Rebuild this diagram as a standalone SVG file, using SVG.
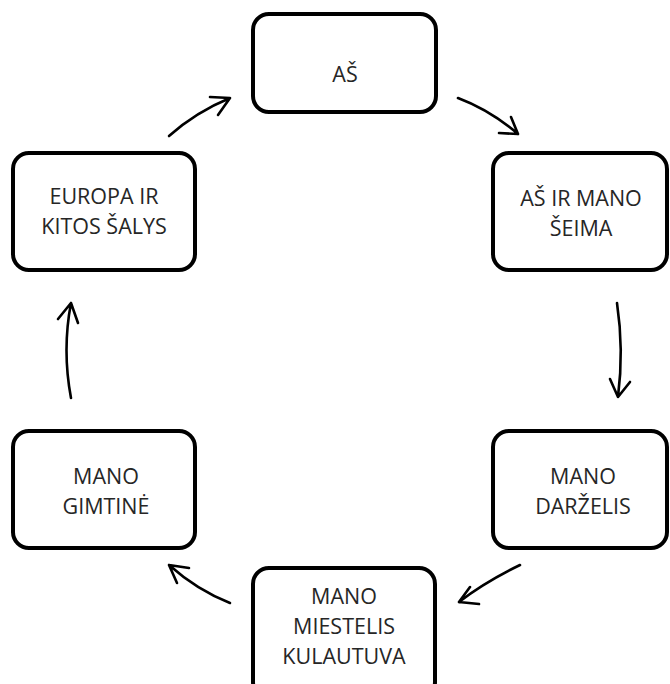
<svg xmlns="http://www.w3.org/2000/svg" width="670" height="684" viewBox="0 0 670 684">
<style>
.box{fill:#fff;stroke:#000;stroke-width:4}
.t{font-family:"Open Sans","Liberation Sans",sans-serif;font-size:21.5px;fill:#262626;text-anchor:middle}
.c{fill:none;stroke:#000;stroke-width:2.6;stroke-linecap:round;stroke-linejoin:round}
</style>
<rect width="670" height="684" fill="#fff"/>
<g id="n1"><rect class="box" x="253" y="14" width="183" height="98" rx="16"/><text class="t" x="345" y="82">AŠ</text></g>
<g id="n2"><rect class="box" x="493" y="153" width="174" height="117" rx="16"/><text class="t" x="581" y="206">AŠ IR MANO</text><text class="t" x="581" y="236">ŠEIMA</text></g>
<g id="n3"><rect class="box" x="493" y="431" width="174" height="117" rx="16"/><text class="t" x="583" y="484">MANO</text><text class="t" x="583" y="514">DARŽELIS</text></g>
<g id="n4"><rect class="box" x="253" y="568" width="182" height="130" rx="16"/><text class="t" x="344" y="604">MANO</text><text class="t" x="344" y="634">MIESTELIS</text><text class="t" x="344" y="664">KULAUTUVA</text></g>
<g id="n5"><rect class="box" x="13" y="431" width="182" height="117" rx="16"/><text class="t" x="106" y="484">MANO</text><text class="t" x="106" y="514">GIMTINĖ</text></g>
<g id="n6"><rect class="box" x="13" y="153" width="182" height="117" rx="16"/><text class="t" x="104" y="204">EUROPA IR</text><text class="t" x="104" y="234">KITOS ŠALYS</text></g>
<g id="connectors">
<path class="c" d="M458 98 Q490 110 518 134 M511 117 L518 134 L499 133"/>
<path class="c" d="M617 303 Q624 350 618 397 M610 379 L618 397 L630 382"/>
<path class="c" d="M520 565 Q485 582 459 602 M470 587 L459 602 L479 604"/>
<path class="c" d="M230 603 Q197 590 169 565 M189 568 L169 565 L177 583"/>
<path class="c" d="M71 398 Q62 350 71 303 M58 319 L71 303 L78 323"/>
<path class="c" d="M169 136 Q196 112 230 98 M210 97 L230 98 L218 115"/>
</g>
</svg>
